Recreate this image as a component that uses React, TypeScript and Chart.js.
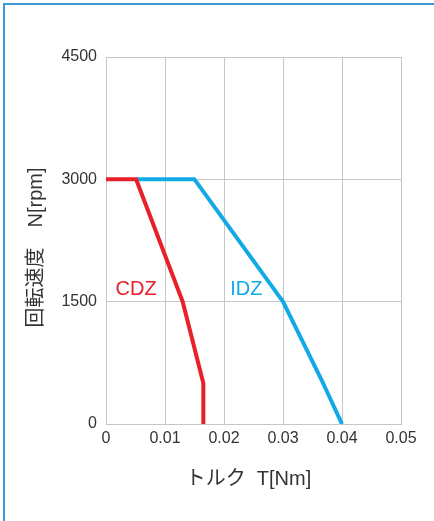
import React, { useEffect, useRef } from "react";
import { Chart, registerables } from "chart.js";

Chart.register(...registerables);

// Data (torque in Nm, speed in rpm)
const cdzTorque = [0, 0.0051, 0.013, 0.0165, 0.0165];
const cdzSpeed = [3000, 3000, 1500, 500, 0];
const idzTorque = [0.0051, 0.015, 0.03, 0.0368, 0.04];
const idzSpeed = [3000, 3000, 1500, 500, 0];
const xTicks = [0, 0.01, 0.02, 0.03, 0.04, 0.05];
const yTicks = [0, 1500, 3000, 4500];
const seriesNames = ["CDZ", "IDZ"];
const seriesColors = ["#e8202a", "#12aae6"];
const labelTorque = [0.0051, 0.0238];
const labelSpeed = [1650, 1650];
const xTitle = "トルク  T[Nm]";
const yTitle = "回転速度　N[rpm]";

const FONT = '"Liberation Sans", "Noto Sans CJK JP", sans-serif';
const TEXT = "#333333";
const GRID = "#c6c6c6";

const toPoints = (xs: number[], ys: number[]) => xs.map((x, i) => ({ x, y: ys[i] }));

const textPlugin = {
  id: "customText",
  afterDraw(chart: any) {
    const { ctx, chartArea, scales } = chart;
    ctx.save();
    // series labels
    ctx.font = `20px ${FONT}`;
    ctx.textAlign = "center";
    ctx.textBaseline = "middle";
    seriesNames.forEach((name, i) => {
      ctx.fillStyle = seriesColors[i];
      ctx.fillText(name, scales.x.getPixelForValue(labelTorque[i]), scales.y.getPixelForValue(labelSpeed[i]));
    });
    // axis titles
    ctx.fillStyle = TEXT;
    ctx.font = `20px ${FONT}`;
    ctx.fillText(xTitle, (chartArea.left + chartArea.right) / 2 - 5, chartArea.bottom + 55);
    ctx.translate(36, (chartArea.top + chartArea.bottom) / 2 + 7);
    ctx.rotate(-Math.PI / 2);
    ctx.fillText(yTitle, 0, 0);
    ctx.restore();
  },
};

export default function App() {
  const ref = useRef<HTMLCanvasElement | null>(null);

  useEffect(() => {
    if (!ref.current) return;
    const chart = new Chart(ref.current, {
      type: "scatter",
      data: {
        datasets: [
          {
            label: seriesNames[0],
            data: toPoints(cdzTorque, cdzSpeed),
            showLine: true,
            borderColor: seriesColors[0],
            backgroundColor: seriesColors[0],
            borderWidth: 4,
            pointRadius: 0,
            borderJoinStyle: "round",
          },
          {
            label: seriesNames[1],
            data: toPoints(idzTorque, idzSpeed),
            showLine: true,
            borderColor: seriesColors[1],
            backgroundColor: seriesColors[1],
            borderWidth: 4,
            pointRadius: 0,
            borderJoinStyle: "round",
          },
        ],
      },
      options: {
        responsive: false,
        animation: false,
        devicePixelRatio: 1,
        layout: { padding: { left: 0, top: 57, right: 33, bottom: 0 } },
        plugins: { legend: { display: false }, tooltip: { enabled: false } },
        scales: {
          x: {
            type: "linear",
            min: 0,
            max: 0.05,
            afterBuildTicks: (s: any) => {
              s.ticks = xTicks.map((v) => ({ value: v }));
            },
            afterFit: (s: any) => {
              s.height = 97;
            },
            ticks: {
              color: TEXT,
              font: { family: FONT, size: 16 },
              padding: 5,
              maxRotation: 0,
              callback: (v: any) => String(Number(Number(v).toFixed(2))),
            },
            grid: { color: GRID, lineWidth: 1, drawTicks: false },
            border: { color: GRID, width: 1 },
          },
          y: {
            type: "linear",
            min: 0,
            max: 4500,
            afterBuildTicks: (s: any) => {
              s.ticks = yTicks.map((v) => ({ value: v }));
            },
            afterFit: (s: any) => {
              s.width = 106;
            },
            ticks: {
              color: TEXT,
              font: { family: FONT, size: 16 },
              padding: 9,
              callback: (v: any) => String(v),
            },
            grid: { color: GRID, lineWidth: 1, drawTicks: false },
            border: { color: GRID, width: 1 },
          },
        },
      },
      plugins: [textPlugin],
    });
    return () => chart.destroy();
  }, []);

  return (
    <div style={{ position: "fixed", left: 0, top: 0, width: 434, height: 521, background: "#fff", overflow: "hidden" }}>
      <canvas ref={ref} width={434} height={521} style={{ position: "absolute", left: 0, top: 0 }} />
      <div
        style={{
          position: "absolute",
          left: 3,
          top: 3,
          width: 460,
          height: 560,
          borderTop: "2px solid #3d9ad6",
          borderLeft: "2px solid #3d9ad6",
          pointerEvents: "none",
        }}
      />
    </div>
  );
}
